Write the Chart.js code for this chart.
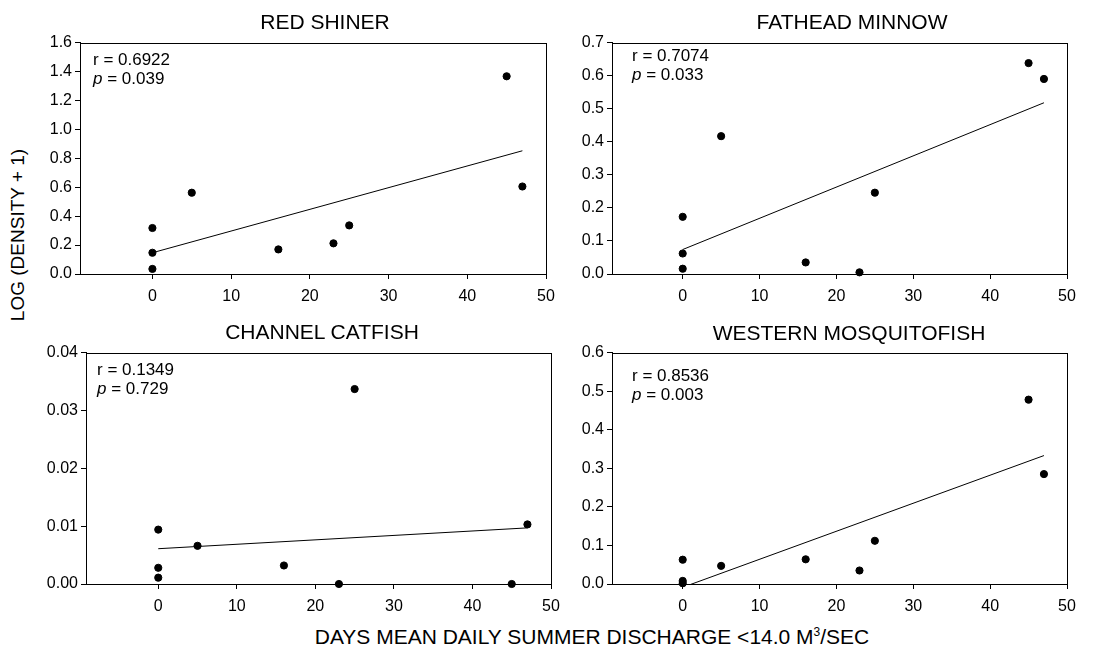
<!DOCTYPE html>
<html>
<head>
<meta charset="utf-8">
<script src="https://cdn.jsdelivr.net/npm/chart.js@4/dist/chart.umd.min.js"></script>
<style>
  body { margin: 0; background: #fff; font-family: "Liberation Sans", Arial, sans-serif; }
  #wrap { position: relative; width: 1098px; height: 650px; overflow: hidden; }
  canvas { position: absolute; }
  .lbl { position: absolute; color: #000; white-space: nowrap; }
  .title { font-size: 21px; transform: translate(-50%, -50%); }
  .stat { font-size: 17px; line-height: 19px; }
  #ylab { font-size: 19px; left: 18px; top: 235px; transform: translate(-50%, -50%) rotate(-90deg); }
  #xlab { font-size: 21px; left: 592px; top: 637px; transform: translate(-50%, -50%); }
</style>
</head>
<body>
<div id="wrap">
  <canvas id="c1" width="533" height="274" style="left:30px;top:30px"></canvas>
  <canvas id="c3" width="538" height="274" style="left:30px;top:340px"></canvas>
  <canvas id="c2" width="530" height="274" style="left:560px;top:30px"></canvas>
  <canvas id="c4" width="530" height="274" style="left:560px;top:340px"></canvas>

  <div class="lbl title" style="left:325px;top:22px">RED SHINER</div>
  <div class="lbl title" style="left:852px;top:22px">FATHEAD MINNOW</div>
  <div class="lbl title" style="left:322px;top:332px">CHANNEL CATFISH</div>
  <div class="lbl title" style="left:849px;top:333px">WESTERN MOSQUITOFISH</div>

  <div class="lbl stat" style="left:93px;top:50px">r = 0.6922<br><i>p</i> = 0.039</div>
  <div class="lbl stat" style="left:632px;top:46px">r = 0.7074<br><i>p</i> = 0.033</div>
  <div class="lbl stat" style="left:97px;top:360px">r = 0.1349<br><i>p</i> = 0.729</div>
  <div class="lbl stat" style="left:632px;top:366px">r = 0.8536<br><i>p</i> = 0.003</div>

  <div class="lbl" id="ylab">LOG (DENSITY + 1)</div>
  <div class="lbl" id="xlab">DAYS MEAN DAILY SUMMER DISCHARGE &lt;14.0 M<sup style="font-size:12px">3</sup>/SEC</div>
</div>

<script>
// days with low discharge, same for every species
const days = [0, 0, 0, 5, 16, 23, 25, 45, 47];

const redShiner     = [0.318, 0.147, 0.035, 0.562, 0.170, 0.212, 0.336, 1.367, 0.605];
const fatheadMinnow = [0.173, 0.062, 0.016, 0.417, 0.035, 0.005, 0.246, 0.638, 0.590];
const channelCatfish = [0.0094, 0.0028, 0.0011, 0.0066, 0.0032, 0.0000, 0.0337, 0.0000, 0.0103];
const mosquitofish  = [0.063, 0.008, 0.002, 0.047, 0.064, 0.035, 0.112, 0.478, 0.285];

// regression line end points
const fitX = [0, 47];
const redShinerFit = [0.147, 0.852];
const fatheadFit = [0.074, 0.518];
const catfishFit = [0.0061, 0.0097];
const mosquitoFit = [-0.0086, 0.333];

const xTicks = [0, 10, 20, 30, 40, 50];
const redTicks = [0, 0.2, 0.4, 0.6, 0.8, 1.0, 1.2, 1.4, 1.6];
const fatheadTicks = [0, 0.1, 0.2, 0.3, 0.4, 0.5, 0.6, 0.7];
const catfishTicks = [0, 0.01, 0.02, 0.03, 0.04];
const mosquitoTicks = [0, 0.1, 0.2, 0.3, 0.4, 0.5, 0.6];

const frame = {
  id: 'frame',
  afterDraw(chart) {
    const a = chart.chartArea, ctx = chart.ctx;
    ctx.save();
    ctx.strokeStyle = '#000';
    ctx.lineWidth = 1;
    ctx.strokeRect(Math.round(a.left) + 0.5, Math.round(a.top) + 0.5,
      Math.round(a.right - a.left), Math.round(a.bottom - a.top));
    ctx.restore();
  }
};

function makePanel(id, yValues, fitY, yTicks, decimals, yWidth, padRight) {
  const ctx = document.getElementById(id).getContext('2d');
  new Chart(ctx, {
    type: 'scatter',
    data: {
      datasets: [{
        data: days.map((d, i) => ({ x: d, y: yValues[i] })),
        backgroundColor: '#000',
        borderColor: '#000',
        pointRadius: 3.6,
        clip: false
      }, {
        type: 'line',
        data: fitX.map((d, i) => ({ x: d, y: fitY[i] })),
        borderColor: '#000',
        borderWidth: 1,
        pointRadius: 0,
        fill: false,
        clip: 0
      }]
    },
    options: {
      responsive: false,
      animation: false,
      events: [],
      layout: { padding: { top: 12, right: padRight, left: 0, bottom: 0 } },
      plugins: { legend: { display: false }, tooltip: { enabled: false } },
      scales: {
        x: {
          type: 'linear',
          min: -9.2,
          max: 50,
          afterBuildTicks: s => { s.ticks = xTicks.map(v => ({ value: v })); },
          afterFit: s => { s.height = 30; },
          grid: { drawOnChartArea: false, color: '#000', tickLength: 5 },
          border: { color: '#000' },
          ticks: { color: '#000', padding: 8, font: { family: 'Liberation Sans', size: 16 } }
        },
        y: {
          min: 0,
          max: yTicks[yTicks.length - 1],
          afterBuildTicks: s => { s.ticks = yTicks.map(v => ({ value: v })); },
          afterFit: s => { s.width = yWidth; },
          grid: { drawOnChartArea: false, color: '#000', tickLength: 5 },
          border: { color: '#000' },
          ticks: {
            color: '#000', padding: 3,
            font: { family: 'Liberation Sans', size: 16 },
            callback: v => Number(v).toFixed(decimals)
          }
        }
      }
    },
    plugins: [frame]
  });
}

makePanel('c1', redShiner, redShinerFit, redTicks, 1, 50, 17);
makePanel('c2', fatheadMinnow, fatheadFit, fatheadTicks, 1, 52, 23);
makePanel('c3', channelCatfish, catfishFit, catfishTicks, 2, 56, 17);
makePanel('c4', mosquitofish, mosquitoFit, mosquitoTicks, 1, 52, 23);
</script>
</body>
</html>
